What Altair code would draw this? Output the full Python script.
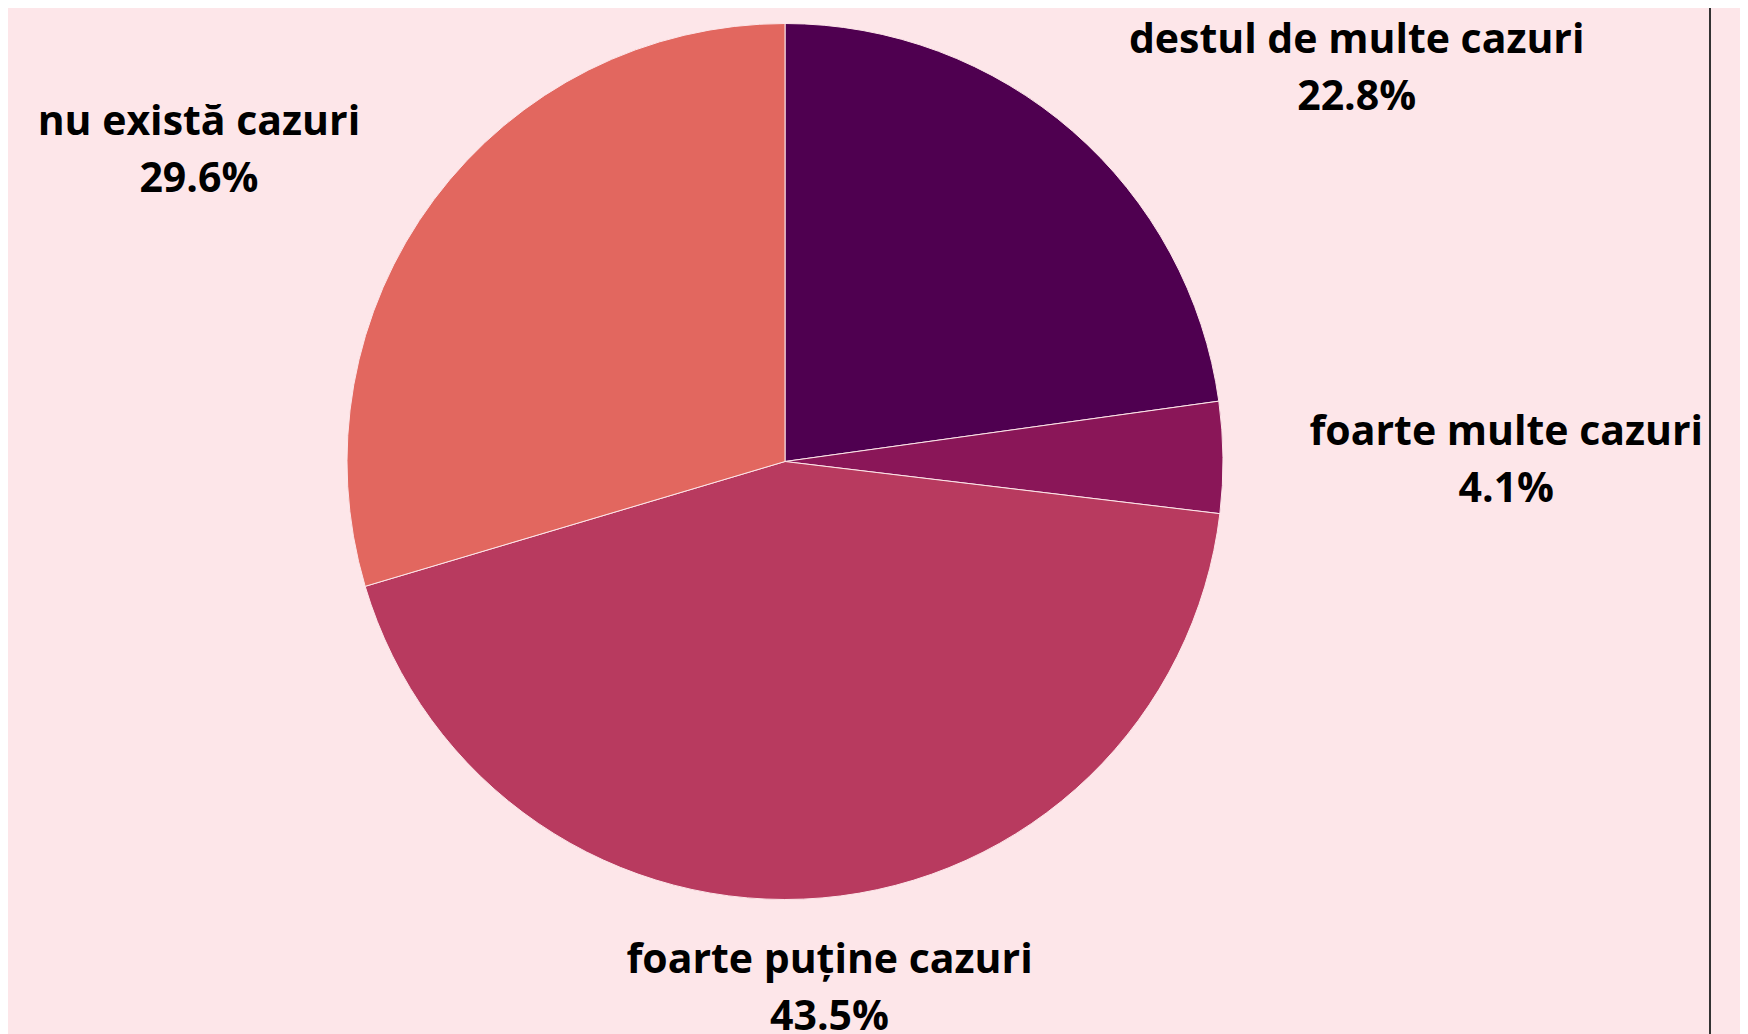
import altair as alt
import pandas as pd

# ---- data ----
categories = ["destul de multe cazuri", "foarte multe cazuri",
              "foarte puține cazuri", "nu există cazuri"]
shares = [22.8, 4.1, 43.5, 29.6]
colors = ["#4f0050", "#8a1658", "#b83a5f", "#e2675f"]

df = pd.DataFrame({"cat": categories, "share": shares, "order": list(range(len(categories)))})
df["label"] = [f"{c}\n{v:.1f}%" for c, v in zip(categories, shares)]

BG = "#fde6e9"
W, H = 1732, 1026
CX, CY, R = 777, 453.5, 438
LR = 1.2 * R  # label distance from centre
FS = 41
LH = 57
CHAR_W = 20.6  # approximate bold glyph advance at this size, for block centring

base = alt.Chart(df)

pie = base.mark_arc(outerRadius=R, stroke=BG, strokeWidth=1).encode(
    theta=alt.Theta("share:Q", stack=True),
    color=alt.Color("cat:N", scale=alt.Scale(domain=categories, range=colors), legend=None),
    order=alt.Order("order:Q"),
    x=alt.value(CX),
    y=alt.value(CY),
)

labels = (
    base.transform_window(cum="sum(share)", sort=[alt.SortField("order")], frame=[None, 0])
    .transform_joinaggregate(total="sum(share)")
    .transform_calculate(mid="2*PI*(datum.cum - datum.share/2)/datum.total")
    .transform_calculate(
        s="sin(datum.mid)",
        hw=f"{CHAR_W / 2}*length(datum.cat)",
    )
    .transform_calculate(
        side="datum.s > 0.3 ? 1 : (datum.s < -0.3 ? -1 : 0)",
    )
    .transform_calculate(
        lx=f"{CX} + {LR}*sin(datum.mid) + datum.side*datum.hw",
        ly=f"{CY} - {LR}*cos(datum.mid)",
    )
    .mark_text(
        font="Open Sans", fontWeight="bold", fontSize=FS, lineBreak="\n",
        lineHeight=LH, baseline="middle", align="center", color="black",
        dy=-24,
    )
    .encode(
        x=alt.X("lx:Q", scale=None),
        y=alt.Y("ly:Q", scale=None),
        text="label:N",
    )
)

edge = alt.Chart(pd.DataFrame({"a": [0]})).mark_rule(color="#333333", strokeWidth=2).encode(
    x=alt.value(1702), y=alt.value(0), y2=alt.value(H)
)

chart = alt.layer(pie, labels, edge).properties(
    width=W, height=H, background=BG, padding=0,
    autosize=alt.AutoSizeParams(type="none"),
).configure_view(stroke=None)

chart.save("out.html", embed_options={"renderer": "svg", "actions": False})
